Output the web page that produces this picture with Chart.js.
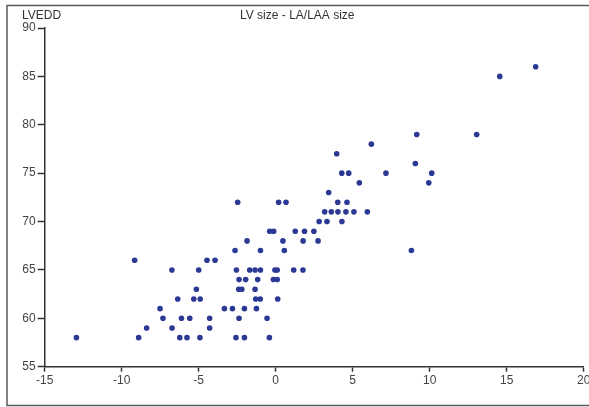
<!DOCTYPE html>
<html>
<head>
<meta charset="utf-8">
<script src="https://cdn.jsdelivr.net/npm/chart.js@4/dist/chart.umd.min.js"></script>
<style>
  html, body { margin: 0; padding: 0; background: #fff; }
  #wrap { position: relative; width: 589px; height: 407px; }
</style>
</head>
<body>
<div id="wrap"><canvas id="scatter"></canvas></div>
<script>
// Labels
const chartTitle = 'LV size - LA/LAA size';
const yAxisName = 'LVEDD';

// Axis ranges
const xTicks = [-15, -10, -5, 0, 5, 10, 15, 20];
const yTicks = [55, 60, 65, 70, 75, 80, 85, 90];

// LA/LAA size (x) and LVEDD (y), one pair per patient
const laSize = [
  -12.94, -8.9, -6.23, -5.76, -4.92, -2.58, -2.03, -0.41,
  -8.38, -6.73, -4.29,
  -7.32, -6.12, -5.58, -4.29, -2.38, -0.56,
  -7.51, -3.33, -2.81, -2.03, -1.25,
  -6.36, -5.32, -4.9, -1.3, -1.0, 0.13,
  -5.15, -2.4, -2.2, -1.34,
  -2.38, -1.95, -1.17, -0.15, 0.1,
  -6.74, -5.0, -2.55, -1.69, -1.34, -0.99, -0.05, 0.1, 1.17, 1.77,
  -9.16, -4.46, -3.94,
  -2.64, -0.99, 0.56, 8.81,
  -1.86, 0.47, 1.78, 2.75,
  -0.39, -0.13, 1.27, 1.87, 2.48,
  2.82, 3.33, 4.3,
  3.18, 3.61, 4.04, 4.56, 5.08, 5.95,
  -2.47, 0.19, 0.67, 4.03, 4.63,
  3.44,
  5.43, 9.94,
  4.29, 4.74, 7.16, 10.13,
  9.07,
  3.96,
  6.21,
  9.16, 13.05,
  14.55,
  16.88
];
const lvedd = [
  58, 58, 58, 58, 58, 58, 58, 58,
  59, 59, 59,
  60, 60, 60, 60, 60, 60,
  61, 61, 61, 61, 61,
  62, 62, 62, 62, 62, 62,
  63, 63, 63, 63,
  64, 64, 64, 64, 64,
  65, 65, 65, 65, 65, 65, 65, 65, 65, 65,
  66, 66, 66,
  67, 67, 67, 67,
  68, 68, 68, 68,
  69, 69, 69, 69, 69,
  70, 70, 70,
  71, 71, 71, 71, 71, 71,
  72, 72, 72, 72, 72,
  73,
  74, 74,
  75, 75, 75, 75,
  76,
  77,
  78,
  79, 79,
  85,
  86
];

const points = laSize.map((x, i) => ({ x: x, y: lvedd[i] }));

const FONT = "'Liberation Sans', Arial, sans-serif";
Chart.defaults.font.family = FONT;
Chart.defaults.font.size = 12;

// frame + top texts
const decor = {
  id: 'decor',
  beforeDraw(chart) {
    const ctx = chart.ctx;
    ctx.save();
    ctx.strokeStyle = '#5a5a5a';
    ctx.lineWidth = 1.5;
    ctx.strokeRect(7, 5.5, 600, 400);
    ctx.restore();
  },
  afterDraw(chart) {
    const ctx = chart.ctx;
    ctx.save();
    ctx.fillStyle = '#333';
    ctx.font = '12px ' + FONT;
    ctx.textBaseline = 'alphabetic';
    ctx.textAlign = 'left';
    ctx.fillText(yAxisName, 22, 18.5);
    ctx.fillText(chartTitle, 240, 18.5);
    ctx.restore();
  }
};

new Chart(document.getElementById('scatter').getContext('2d'), {
  type: 'scatter',
  data: {
    datasets: [{
      label: yAxisName,
      data: points,
      pointRadius: 2.8,
      pointHoverRadius: 2.8,
      pointBackgroundColor: '#2b3995',
      pointBorderWidth: 0
    }]
  },
  options: {
    responsive: true,
    maintainAspectRatio: false,
    animation: false,
    layout: { padding: { left: 0, top: 28, right: 5.3, bottom: 0 } },
    plugins: { legend: { display: false }, tooltip: { enabled: false } },
    scales: {
      x: {
        type: 'linear',
        min: xTicks[0],
        max: xTicks[xTicks.length - 1],
        afterBuildTicks: s => { s.ticks = xTicks.map(v => ({ value: v })); },
        afterFit: s => { s.height = 40.3; s.paddingLeft = 0; s.paddingRight = 0; },
        border: { display: true, color: '#333', width: 1.5 },
        grid: { drawOnChartArea: false, drawTicks: true, tickLength: 5, tickColor: '#333', tickWidth: 1.5 },
        ticks: { color: '#444', padding: 2, maxRotation: 0, font: { size: 12 } }
      },
      y: {
        type: 'linear',
        min: yTicks[0],
        max: yTicks[yTicks.length - 1],
        afterBuildTicks: s => { s.ticks = yTicks.map(v => ({ value: v })); },
        afterFit: s => { s.width = 44.7; s.paddingTop = 0; s.paddingBottom = 0; },
        border: { display: true, color: '#333', width: 1.5 },
        grid: { drawOnChartArea: false, drawTicks: true, tickLength: 7, tickColor: '#333', tickWidth: 1.5 },
        ticks: { color: '#444', padding: 2, font: { size: 12 } }
      }
    }
  },
  plugins: [decor]
});
</script>
</body>
</html>
